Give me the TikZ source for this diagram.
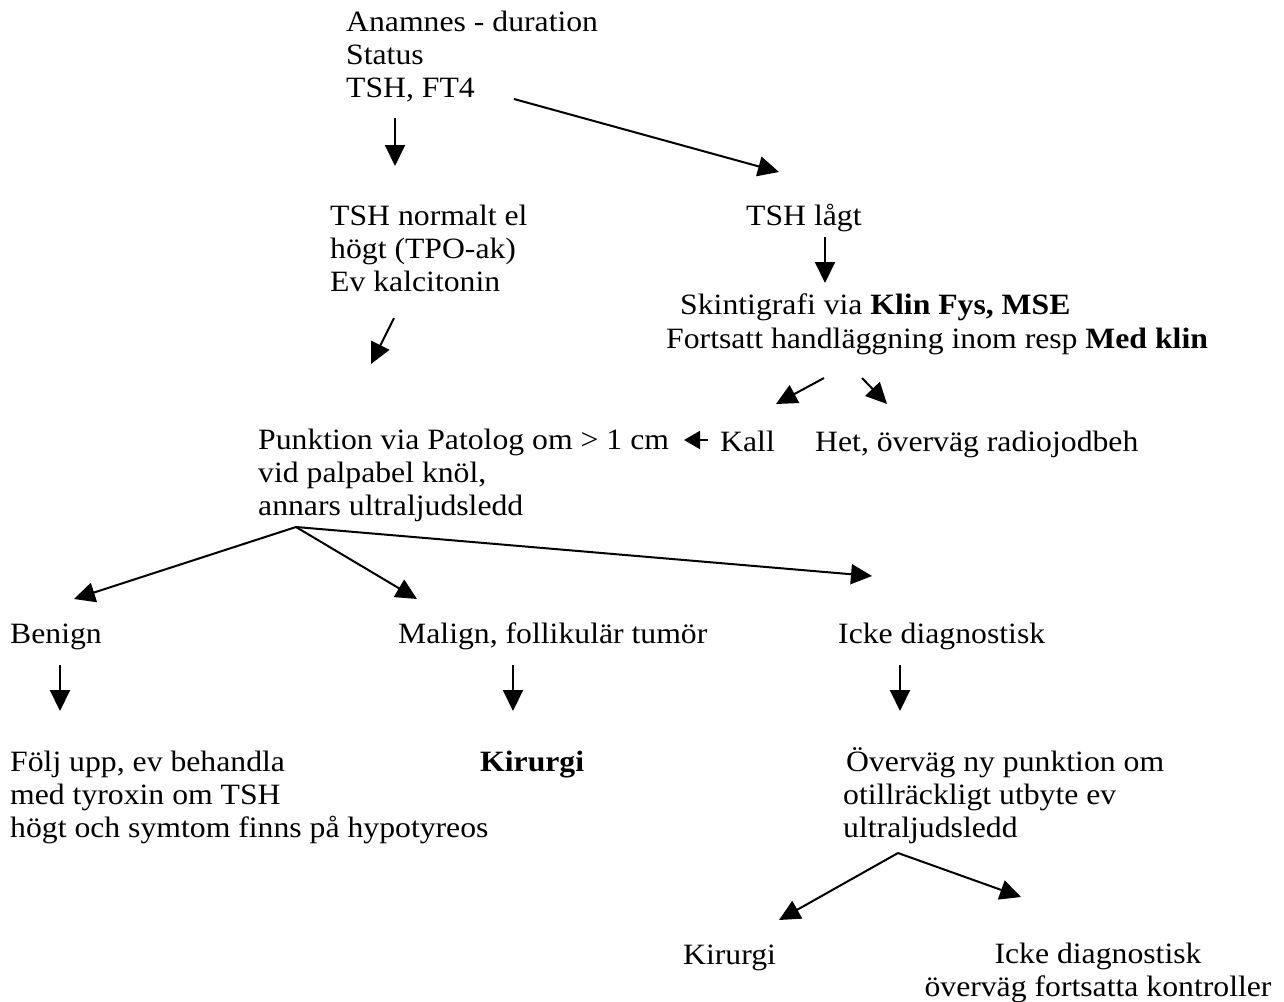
\documentclass[tikz,border=0pt]{standalone}
\usepackage{fontspec}
\setmainfont[FakeStretch=1.075]{Liberation Serif}
\usetikzlibrary{arrows.meta}
\begin{document}
\begin{tikzpicture}[x=1pt,y=-1pt,
  txt/.style={font={\fontsize{29.5pt}{33pt}\selectfont}, inner sep=0pt, anchor=base west, align=left},
  txtc/.style={font={\fontsize{29.5pt}{33pt}\selectfont}, inner sep=0pt, anchor=base, align=center},
  arr/.style={-{Triangle[length=21pt,width=20pt]}, line width=2pt},
  smallarr/.style={-{Triangle[length=16pt,width=18pt]}, line width=2pt}]
\useasboundingbox (0,0) rectangle (1284,1001);
% text nodes (multi-line nodes are placed at the baseline of their last line)
\node[txt] (start) at (346,97) {Anamnes - duration\\Status\\TSH, FT4};
\node[txt] (norm) at (330,291) {TSH normalt el\\högt (TPO-ak)\\Ev kalcitonin};
\node[txt] (low) at (746,225) {TSH lågt};
\node[txt] (skin) at (680,314) {Skintigrafi via \textbf{Klin Fys, MSE}};
\node[txt] (fort) at (666,348) {Fortsatt handläggning inom resp \textbf{Med klin}};
\node[txt] (punk) at (258,515) {Punktion via Patolog om > 1 cm\\vid palpabel knöl,\\annars ultraljudsledd};
\node[txt] (kall) at (720,451) {Kall};
\node[txt] (het) at (815,451) {Het, överväg radiojodbeh};
\node[txt] (ben) at (10,643) {Benign};
\node[txt] (mal) at (398,643) {Malign, follikulär tumör};
\node[txt] (icke) at (838,643) {Icke diagnostisk};
\node[txt] (folj) at (10,837) {Följ upp, ev behandla\\med tyroxin om TSH\\högt och symtom finns på hypotyreos};
\node[txt] (kir) at (480,771) {\textbf{Kirurgi}};
\node[txt] (overv) at (846,771) {Överväg ny punktion om};
\node[txt] (otill) at (843,837) {otillräckligt utbyte ev\\ultraljudsledd};
\node[txt] (kir2) at (683,964) {Kirurgi};
\node[txtc] (icke2) at (1098,996) {Icke diagnostisk\\överväg fortsatta kontroller};
% arrow coordinates
\coordinate (a1s) at (395,118); \coordinate (a1e) at (395,166);
\coordinate (a2s) at (514,99);  \coordinate (a2e) at (779,172);
\coordinate (a3s) at (825,237); \coordinate (a3e) at (825,283);
\coordinate (a4s) at (394,318); \coordinate (a4e) at (371,364);
\coordinate (a5s) at (824,378); \coordinate (a5e) at (776,404);
\coordinate (a6s) at (862,378); \coordinate (a6e) at (887,404);
\coordinate (a7s) at (708,440); \coordinate (a7e) at (684,440);
\coordinate (apx) at (296,527);
\coordinate (a8e) at (74,599);
\coordinate (a9e) at (417,599);
\coordinate (a10e) at (872,576);
\coordinate (b1s) at (60,665); \coordinate (b1e) at (60,711);
\coordinate (b2s) at (513,665); \coordinate (b2e) at (513,711);
\coordinate (b3s) at (900,665); \coordinate (b3e) at (900,711);
\coordinate (apx2) at (898,853);
\coordinate (c1e) at (779,920);
\coordinate (c2e) at (1021,897);
% arrows
\draw[arr] (a1s) -- (a1e);
\draw[arr] (a2s) -- (a2e);
\draw[arr] (a3s) -- (a3e);
\draw[arr] (a4s) -- (a4e);
\draw[arr] (a5s) -- (a5e);
\draw[arr] (a6s) -- (a6e);
\draw[smallarr] (a7s) -- (a7e);
\draw[arr] (apx) -- (a8e);
\draw[arr] (apx) -- (a9e);
\draw[arr] (apx) -- (a10e);
\draw[arr] (b1s) -- (b1e);
\draw[arr] (b2s) -- (b2e);
\draw[arr] (b3s) -- (b3e);
\draw[arr] (apx2) -- (c1e);
\draw[arr] (apx2) -- (c2e);
\end{tikzpicture}
\end{document}
